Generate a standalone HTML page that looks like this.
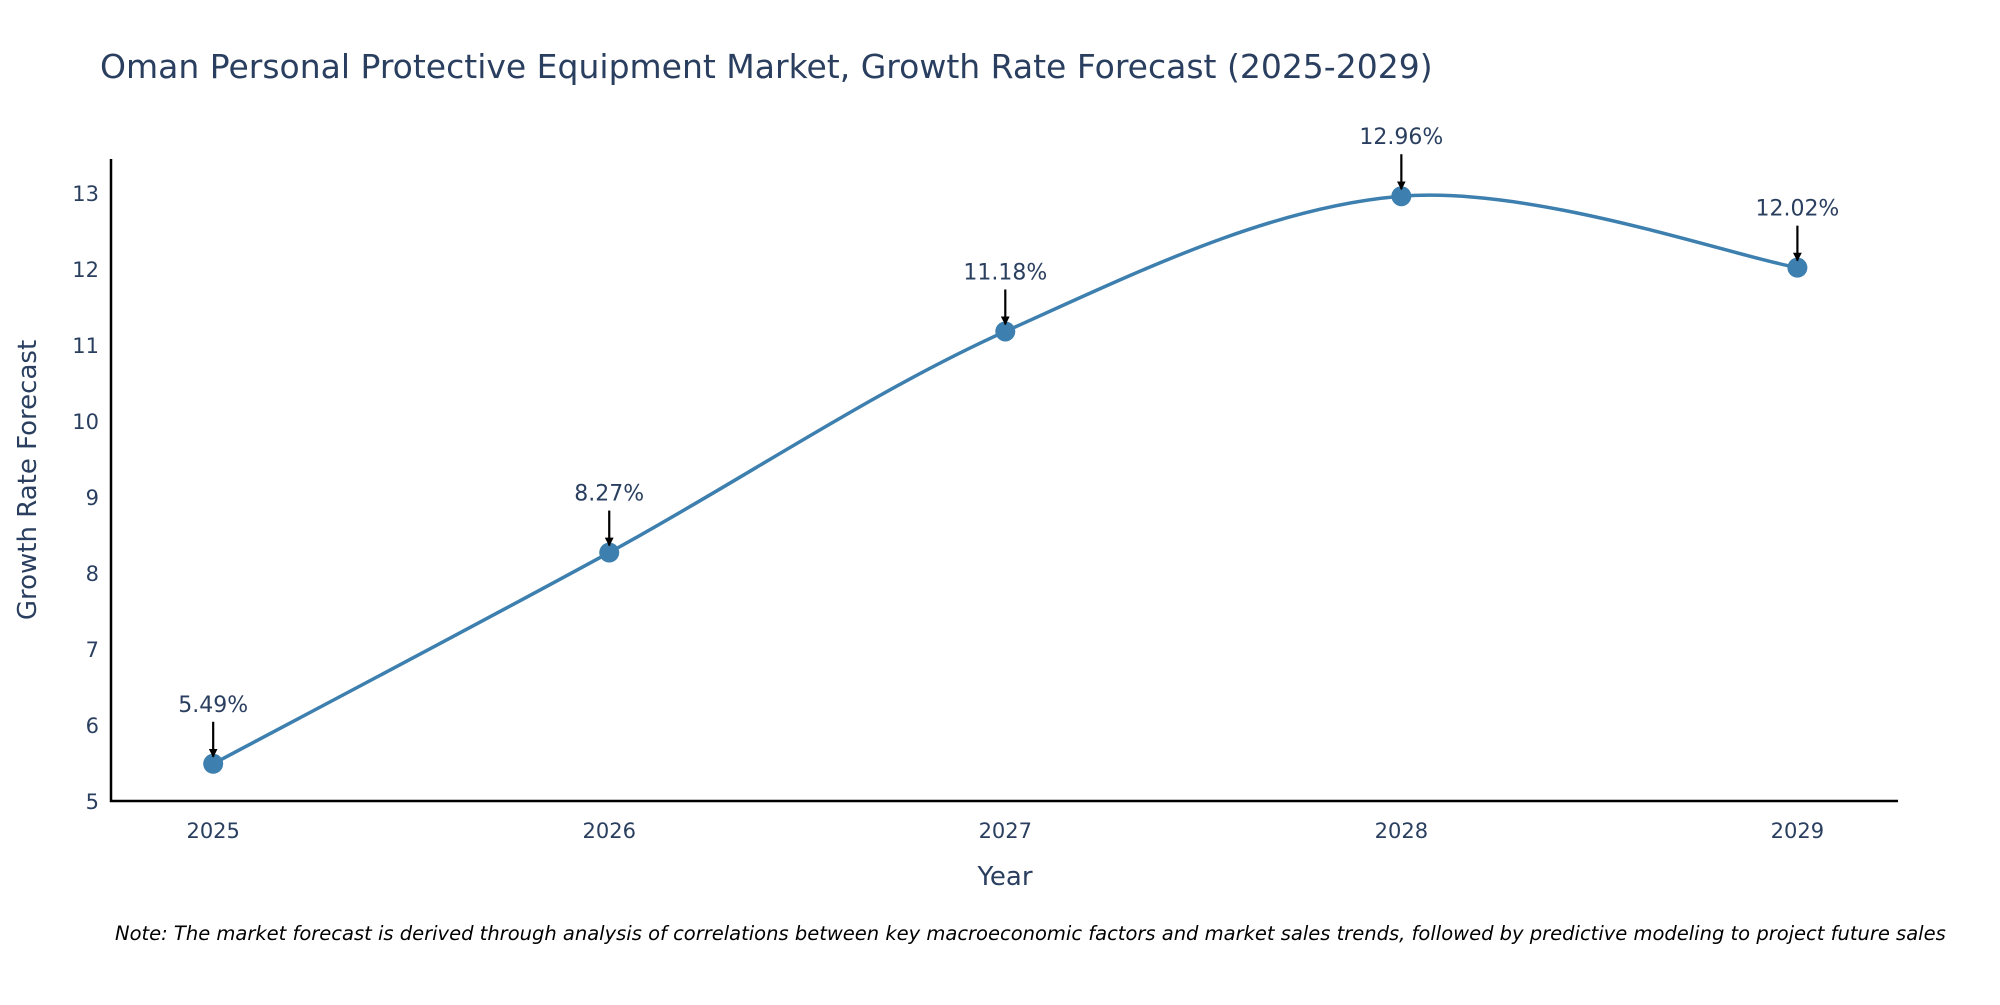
<!DOCTYPE html>
<html><head><meta charset="utf-8"><style>
body{margin:0;background:#fff;}
svg text{font-family:"DejaVu Sans","Liberation Sans",sans-serif;fill:#2a3f5f;}
</style></head><body>
<svg id="chart" width="2000" height="1000" xmlns="http://www.w3.org/2000/svg">
<defs><marker id="ah" viewBox="0 0 10 10" refX="9" refY="5" markerWidth="4" markerHeight="4" orient="auto"><path d="M0,0 L10,5 L0,10 z" fill="#000"/></marker></defs>
<text x="100" y="78" font-size="33">Oman Personal Protective Equipment Market, Growth Rate Forecast (2025-2029)</text>
<g id="plot"></g>
<text transform="translate(36,480) rotate(-90)" text-anchor="middle" font-size="26">Growth Rate Forecast</text>
<text x="1005" y="885" text-anchor="middle" font-size="26">Year</text>
<text x="115" y="940" font-size="19.5" font-style="italic" style="fill:#000">Note: The market forecast is derived through analysis of correlations between key macroeconomic factors and market sales trends, followed by predictive modeling to project future sales</text>
</svg>
<script>
const years=[2025,2026,2027,2028,2029];
const rates=[5.49,8.27,11.18,12.96,12.02];
const labels=["5.49%","8.27%","11.18%","12.96%","12.02%"];
const yTicks=[5,6,7,8,9,10,11,12,13];
const NS="http://www.w3.org/2000/svg";
const L=111,R=1898,T=159,B=801;
const xMin=2024.742,xMax=2029.254,yMin=5,yMax=13.45;
const xs=v=>L+(v-xMin)/(xMax-xMin)*(R-L);
const ys=v=>B-(v-yMin)/(yMax-yMin)*(B-T);
const g=document.getElementById('plot');
function mk(t,a){const e=document.createElementNS(NS,t);for(const k in a)e.setAttribute(k,a[k]);g.appendChild(e);return e;}
let ax=mk('path',{d:`M${L},${T} L${L},${B} L${R},${B}`,stroke:'#000','stroke-width':2.5,fill:'none'});


yTicks.forEach(v=>{let t=mk('text',{x:L-12,y:ys(v)+8,'text-anchor':'end','font-size':21});t.textContent=v;

});
years.forEach(v=>{let t=mk('text',{x:xs(v),y:B+37,'text-anchor':'middle','font-size':21});t.textContent=v;

});
const P=years.map((y,i)=>[xs(y),ys(rates[i])]);
let d=`M${P[0][0]},${P[0][1]}`;
for(let i=0;i<P.length-1;i++){
 const p0=P[i-1]||P[i],p1=P[i],p2=P[i+1],p3=P[i+2]||P[i+1];
 const k=1/6;
 const c1=[p1[0]+(p2[0]-p0[0])*k,p1[1]+(p2[1]-p0[1])*k];
 const c2=[p2[0]-(p3[0]-p1[0])*k,p2[1]-(p3[1]-p1[1])*k];
 d+=` C${c1[0]},${c1[1]} ${c2[0]},${c2[1]} ${p2[0]},${p2[1]}`;
}
let ln=mk('path',{d:d,stroke:'#3d7fae','stroke-width':3.5,fill:'none'});


P.forEach((p,i)=>{
 let c=mk('circle',{cx:p[0],cy:p[1],r:10,fill:'#3d7fae'});
 
 
 let a=mk('line',{x1:p[0],y1:p[1]-42,x2:p[0],y2:p[1]-7,stroke:'#000','stroke-width':2.2,'marker-end':'url(#ah)'});
 
 
 let t=mk('text',{x:p[0],y:p[1]-52,'text-anchor':'middle','font-size':22});t.textContent=labels[i];
 
 
});
</script>
</body></html>
